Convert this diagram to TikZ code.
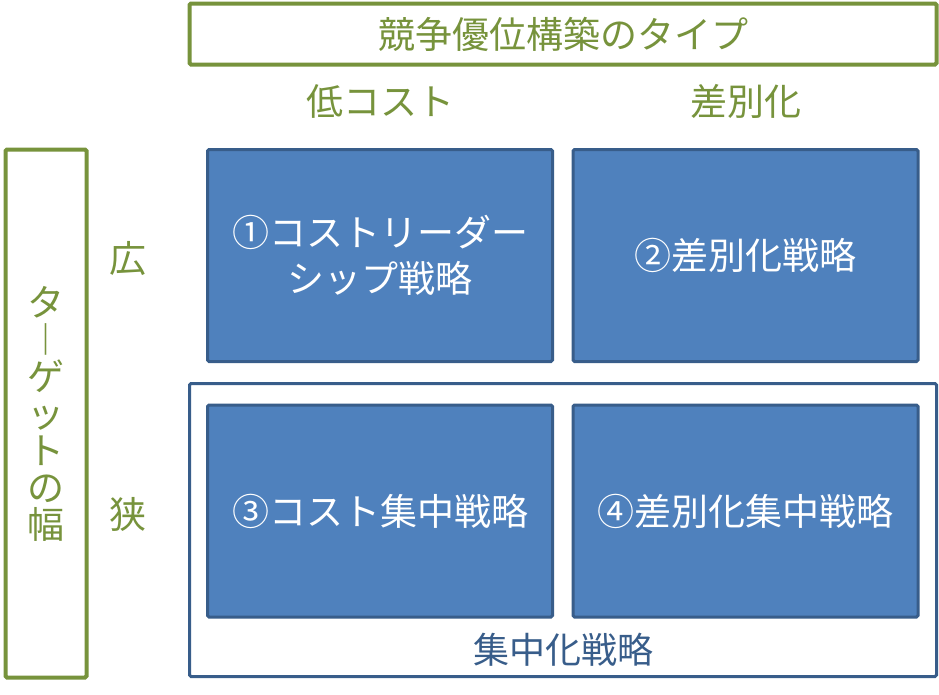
\documentclass[tikz,border=0pt]{standalone}
\usepackage{fontspec}
\newfontfamily\jp{Noto Sans CJK JP}
\definecolor{olivegr}{HTML}{77933C}
\definecolor{blueF}{HTML}{4F81BD}
\definecolor{blueB}{HTML}{385D8A}
\tikzset{
  greenbox/.style={draw=olivegr, line width=4pt, rounded corners=1.5pt, fill=white, text=olivegr, font=\jp\fontsize{37}{37}\selectfont, inner sep=0pt},
  greenlabel/.style={text=olivegr, font=\jp\fontsize{37}{37}\selectfont, inner sep=0pt},
  stratbox/.style={draw=blueB, line width=3pt, rounded corners=1.5pt, fill=blueF, text=white, font=\jp\fontsize{37}{46}\selectfont, align=center, inner sep=0pt, minimum width=345pt, minimum height=212pt},
  focusbox/.style={draw=blueB, line width=3pt, rounded corners=1.5pt, fill=white, inner sep=0pt},
}
\begin{document}
\begin{tikzpicture}[x=1pt,y=-1pt]
\useasboundingbox (0,0) rectangle (939,694);
% top title
\node[greenbox, minimum width=747pt, minimum height=61pt] (title) at (563,34) {競争優位構築のタイプ};
\node[greenlabel] (low) at (380,101) {低コスト};
\node[greenlabel] (diff) at (746,101) {差別化};
% left vertical title
\node[greenbox, minimum width=81pt, minimum height=528pt, align=center, font=\jp\fontsize{37}{37}\selectfont] (target) at (46,413.5)
  {タ\\︱\\ゲ\\ッ\\ト\\の\\幅};
\node[greenlabel] (wide) at (128,259) {広};
\node[greenlabel] (narrow) at (128,514) {狭};
% focus outer box
\node[focusbox, minimum width=747pt, minimum height=293pt] (focus) at (563,530) {};
\node[text=blueB, font=\jp\fontsize{36}{36}\selectfont, inner sep=0pt] (focuslabel) at (563,650) {集中化戦略};
% strategy boxes
\node[stratbox] (s1) at (380,255.5) {①コストリーダー\\シップ戦略};
\node[stratbox] (s2) at (745.5,255.5) {②差別化戦略};
\node[stratbox] (s3) at (380,511) {③コスト集中戦略};
\node[stratbox] (s4) at (745.5,511) {④差別化集中戦略};
\end{tikzpicture}
\end{document}
